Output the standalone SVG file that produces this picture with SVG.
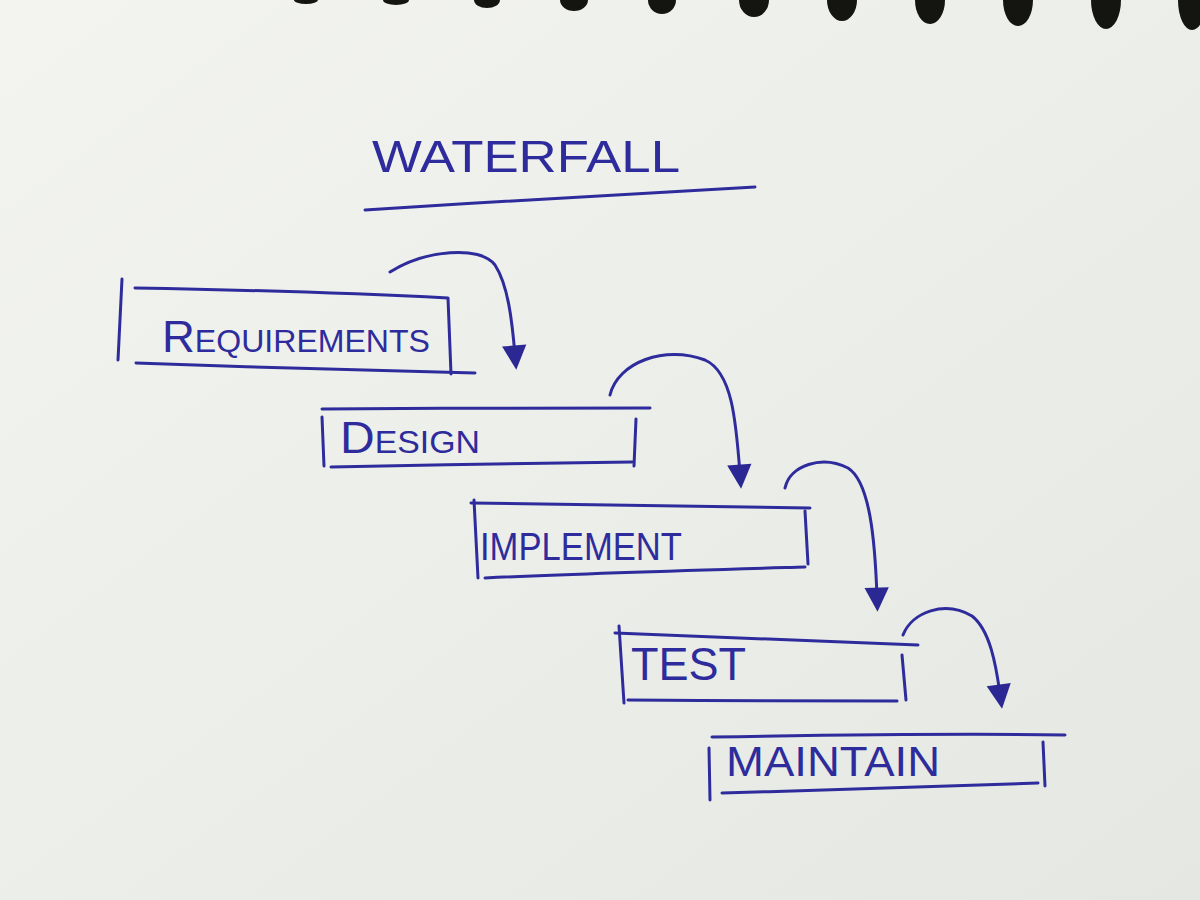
<svg xmlns="http://www.w3.org/2000/svg" width="1200" height="900" viewBox="0 0 1200 900">
<defs>
<linearGradient id="paper" x1="0" y1="0" x2="1" y2="1">
<stop offset="0" stop-color="#f3f4f0"/>
<stop offset="0.5" stop-color="#eceee9"/>
<stop offset="1" stop-color="#e4e7e2"/>
</linearGradient>
<marker id="head" viewBox="0 0 20 20" refX="8" refY="10" markerWidth="9" markerHeight="9" markerUnits="strokeWidth" orient="auto">
<path d="M1,1 L19,10 L1,19 Z" fill="#2b2894"/>
</marker>
<style>
.ink{fill:none;stroke:#2e2c9c;stroke-width:3;stroke-linecap:round;stroke-linejoin:round}
.lbl{font-family:"Liberation Sans","DejaVu Sans",sans-serif;fill:#2e2c9c;font-weight:normal}
.sc{font-variant:small-caps}
.hole{fill:#141410}
</style>
</defs>
<rect width="1200" height="900" fill="url(#paper)"/>
<g id="binding">
<ellipse class="hole" cx="306" cy="0" rx="12" ry="4"/>
<ellipse class="hole" cx="396" cy="0" rx="13" ry="5"/>
<ellipse class="hole" cx="487" cy="0" rx="13" ry="8"/>
<ellipse class="hole" cx="574" cy="0" rx="14" ry="11"/>
<ellipse class="hole" cx="662" cy="0" rx="14" ry="14"/>
<ellipse class="hole" cx="754" cy="0" rx="15" ry="17"/>
<ellipse class="hole" cx="842" cy="0" rx="15" ry="21"/>
<ellipse class="hole" cx="930" cy="0" rx="15" ry="24"/>
<ellipse class="hole" cx="1018" cy="0" rx="15" ry="26"/>
<ellipse class="hole" cx="1106" cy="0" rx="15" ry="29"/>
<ellipse class="hole" cx="1192" cy="0" rx="14" ry="30"/>
</g>
<g id="title">
<text class="lbl" x="372" y="172" font-size="44" textLength="308" lengthAdjust="spacingAndGlyphs">WATERFALL</text>
<path class="ink" d="M365,210 C500,201 650,193 755,187"/>
</g>
<g id="requirements">
<path class="ink" d="M122,279 L118,360"/>
<path class="ink" d="M135,288 C250,290 370,294 448,298 L451,374"/>
<path class="ink" d="M136,363 C250,367 380,371 475,373"/>
<text class="lbl sc" x="162" y="352" font-size="44" textLength="268" lengthAdjust="spacingAndGlyphs">Requirements</text>
</g>
<g id="design">
<path class="ink" d="M322,417 L324,466"/>
<path class="ink" d="M322,409 C430,408 560,408 650,408"/>
<path class="ink" d="M331,467 C430,465 540,463 632,462"/>
<path class="ink" d="M636,419 L634,466"/>
<text class="lbl sc" x="340" y="453" font-size="44" textLength="140" lengthAdjust="spacingAndGlyphs">Design</text>
</g>
<g id="implement">
<path class="ink" d="M474,500 L478,578"/>
<path class="ink" d="M471,503 C590,505 700,506 810,508"/>
<path class="ink" d="M485,578 C590,573 700,570 805,567"/>
<path class="ink" d="M805,511 L808,564"/>
<text class="lbl" x="480" y="560" font-size="38" textLength="202" lengthAdjust="spacingAndGlyphs">IMPLEMENT</text>
</g>
<g id="test">
<path class="ink" d="M619,626 L624,703"/>
<path class="ink" d="M615,633 C720,637 820,641 918,645"/>
<path class="ink" d="M628,700 C720,701 820,701 897,701"/>
<path class="ink" d="M902,655 L906,700"/>
<text class="lbl" x="631" y="680" font-size="46" textLength="115" lengthAdjust="spacingAndGlyphs">TEST</text>
</g>
<g id="maintain">
<path class="ink" d="M709,748 L710,800"/>
<path class="ink" d="M712,737 C830,735 950,733 1065,735"/>
<path class="ink" d="M722,793 C830,790 940,786 1038,783"/>
<path class="ink" d="M1043,742 L1045,786"/>
<text class="lbl" x="726" y="776" font-size="42" textLength="214" lengthAdjust="spacingAndGlyphs">MAINTAIN</text>
</g>
<g id="connectors">
<path class="ink" marker-end="url(#head)" d="M390,272 C425,250 480,245 495,265 C508,285 512,320 515,355"/>
<path class="ink" marker-end="url(#head)" d="M610,395 C618,362 665,345 705,360 C732,372 736,420 740,474"/>
<path class="ink" marker-end="url(#head)" d="M785,488 C790,465 822,455 848,468 C870,482 875,540 877,597"/>
<path class="ink" marker-end="url(#head)" d="M903,635 C912,612 945,600 972,616 C990,630 996,665 1000,694"/>
</g>
</svg>
